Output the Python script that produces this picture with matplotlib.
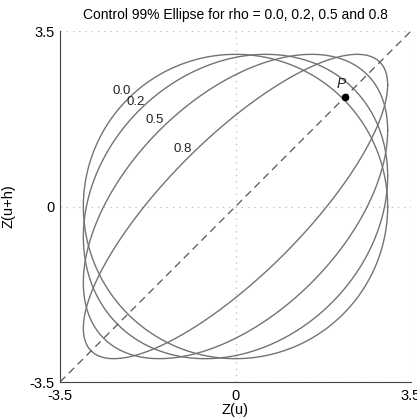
import numpy as np
import matplotlib
matplotlib.use("Agg")
import matplotlib.pyplot as plt

plt.rcParams['font.family'] = ['Liberation Sans', 'DejaVu Sans']

rhos = [0.0, 0.2, 0.5, 0.8]
rho_labels = ["0.0", "0.2", "0.5", "0.8"]
label_x = [-2.27, -1.99, -1.61, -1.05]
label_y = [2.30, 2.09, 1.72, 1.14]
conf = 0.99
point_p = (2.18, 2.18)
lim = 3.5
ticks = [-3.5, 0, 3.5]
tick_labels = ["-3.5", "0", "3.5"]

fig = plt.figure(figsize=(4.17, 4.19), dpi=100)
ax = fig.add_axes([60/417, 37/419, 351/417, 351/419])

c = -2.0 * np.log(1.0 - conf)
r = np.sqrt(c)
t = np.linspace(0, 2*np.pi, 600)
line_col = '#737373'
for rho in rhos:
    x = r * np.cos(t)
    y = r * (rho * np.cos(t) + np.sqrt(1 - rho**2) * np.sin(t))
    ax.plot(x, y, color=line_col, lw=1.0)

for lx, ly, lab in zip(label_x, label_y, rho_labels):
    ax.text(lx, ly, lab, fontsize=9.5, ha='center', va='center', color='#222222')

ax.plot([-lim, lim], [-lim, lim], color='#555555', lw=0.9, ls=(0, (6, 4)))
ax.plot([point_p[0]], [point_p[1]], 'o', color='black', ms=4.5)
ax.text(point_p[0] - 0.08, point_p[1] + 0.12, 'P', fontsize=10, style='italic',
        ha='center', va='bottom', color='#222222')

ax.set_xlim(-lim, lim)
ax.set_ylim(-lim, lim)
ax.set_xticks(ticks)
ax.set_xticklabels(tick_labels)
ax.set_yticks(ticks)
ax.set_yticklabels(tick_labels)
ax.tick_params(axis='both', length=0, labelsize=10.5)
ax.tick_params(axis='x', pad=5)
ax.tick_params(axis='y', pad=4)
for v in ticks:
    ax.axvline(v, color='#bbbbbb', lw=0.9, ls=(0, (1, 4)), zorder=0)
    ax.axhline(v, color='#bbbbbb', lw=0.9, ls=(0, (1, 4)), zorder=0)
ax.spines['top'].set_visible(False)
ax.spines['right'].set_visible(False)
ax.spines['left'].set_color('#444444')
ax.spines['bottom'].set_color('#444444')
ax.set_xlabel('Z(u)', fontsize=10.5, labelpad=0)
ax.set_ylabel('Z(u+h)', fontsize=10.5, labelpad=10)
ax.set_title('Control 99% Ellipse for rho = 0.0, 0.2, 0.5 and 0.8', fontsize=10, pad=9)

fig.savefig('out.png', dpi=100)
